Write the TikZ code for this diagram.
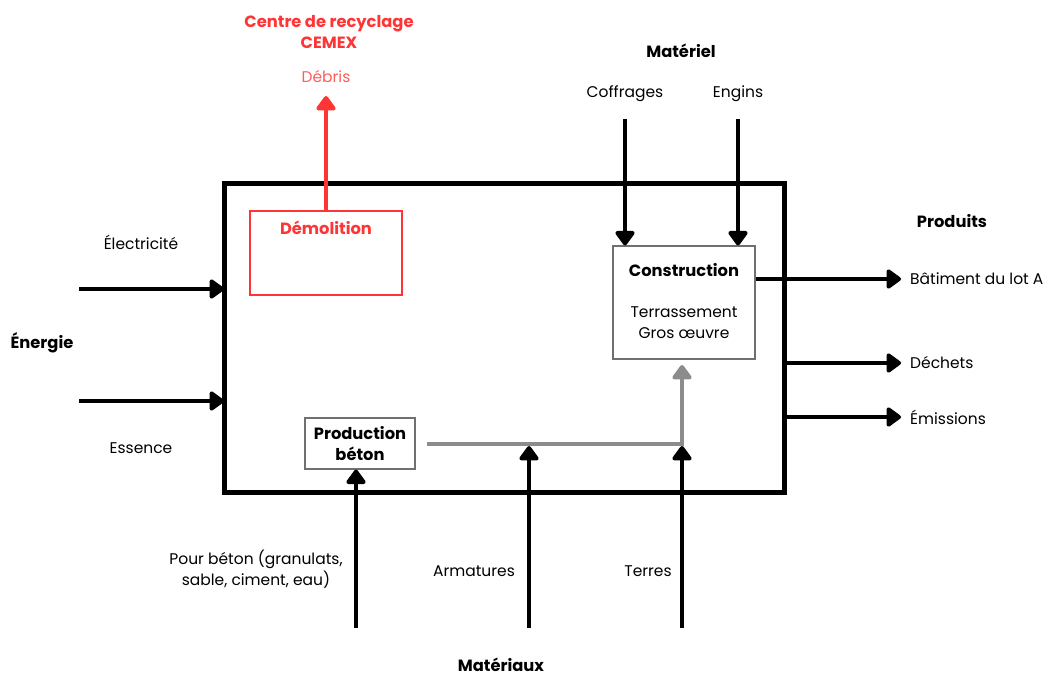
\documentclass[tikz,border=0pt]{standalone}
\usepackage{fontspec}
\setmainfont{Poppins}
\usetikzlibrary{arrows.meta}
\definecolor{demred}{HTML}{FF3535}
\definecolor{lightred}{HTML}{FF5C5C}
\definecolor{flowgray}{HTML}{8C8C8C}
\definecolor{boxgray}{HTML}{707070}
\tikzset{
  txt/.style={inner sep=0pt, font=\fontsize{15.5}{21}\selectfont, align=center},
  ttl/.style={txt, font=\fontsize{16.3}{21.5}\selectfont\bfseries},
  tip/.style={-{Triangle[length=16pt,width=22pt,round]}},
  flow/.style={line width=4pt, tip},
  proc/.style={draw=boxgray, line width=1.2pt, fill=white},
}
\begin{document}
\begin{tikzpicture}[x=1pt,y=-1pt]
\useasboundingbox (0,0) rectangle (1050,677);

% main system boundary
\draw[line width=5pt] (224,183) rectangle (784,492);

% demolition
\draw[demred, line width=2pt, fill=white] (250,211) rectangle (402,295);
\node[ttl, text=demred] (demol) at (326,228) {Démolition};
\coordinate (demtop) at (326,211);
\coordinate (debtip) at (326,96);
\draw[flow, demred] (demtop) -- (debtip);
\node[txt, text=lightred] (debris) at (326,77) {Débris};
\node[ttl, text=demred] (cemex) at (329,32) {Centre de recyclage\\CEMEX};

% construction
\node[proc, minimum width=142pt, minimum height=113pt] (cons) at (684,302.5) {};
\node[ttl] (constitle) at (684,270) {Construction};
\node[txt] (constxt) at (684,323) {Terrassement\\Gros œuvre};

% production béton
\node[proc, minimum width=110pt, minimum height=51pt, text width=106pt, ttl] (prod) at (360,443.5) {Production\\béton};

% equipment inputs
\node[ttl] (materiel) at (681,51) {Matériel};
\node[txt] (coffrages) at (625,94) {Coffrages};
\node[txt] (engins) at (738,94) {Engins};
\coordinate (cof0) at (625,119);
\coordinate (eng0) at (738,119);
\draw[flow] (cof0) -- (cof0 |- cons.north);
\draw[flow] (eng0) -- (eng0 |- cons.north);

% energy inputs
\node[ttl] (energie) at (42,343) {Énergie};
\node[txt] (elec) at (141,242) {Électricité};
\node[txt] (essence) at (141,448) {Essence};
\coordinate (el0) at (79,289);
\coordinate (el1) at (224,289);
\coordinate (es0) at (79,401);
\coordinate (es1) at (224,401);
\draw[flow] (el0) -- (el1);
\draw[flow] (es0) -- (es1);

% outputs
\node[ttl] (produits) at (952,221) {Produits};
\node[txt, anchor=west] (bat) at (910,279) {Bâtiment du lot A};
\node[txt, anchor=west] (dechets) at (910,363) {Déchets};
\node[txt, anchor=west] (emis) at (910,417) {Émissions};
\coordinate (de0) at (784,363);
\coordinate (em0) at (784,417);
\coordinate (bat1) at (901,279);
\coordinate (de1) at (901,363);
\coordinate (em1) at (901,417);
\draw[flow] (cons.east |- bat1) -- (bat1);
\draw[flow] (de0) -- (de1);
\draw[flow] (em0) -- (em1);

% concrete flow to construction
\coordinate (g0) at (427,444);
\coordinate (g1) at (682,444);
\coordinate (gtip) at (682,365);
\draw[flowgray, line width=4pt, tip] (g0) -- (g1) -- (gtip);

% material inputs
\node[ttl] (materiaux) at (501,665) {Matériaux};
\node[txt] (beton) at (256,569) {Pour béton (granulats,\\sable, ciment, eau)};
\node[txt] (armatures) at (474,571) {Armatures};
\node[txt] (terres) at (648,571) {Terres};
\coordinate (b0) at (356,628);
\coordinate (a0) at (529,628);
\coordinate (a1) at (529,446);
\coordinate (t0) at (682,628);
\coordinate (t1) at (682,446);
\draw[flow] (b0) -- (prod.south -| b0);
\draw[flow] (a0) -- (a1);
\draw[flow] (t0) -- (t1);
\end{tikzpicture}
\end{document}
